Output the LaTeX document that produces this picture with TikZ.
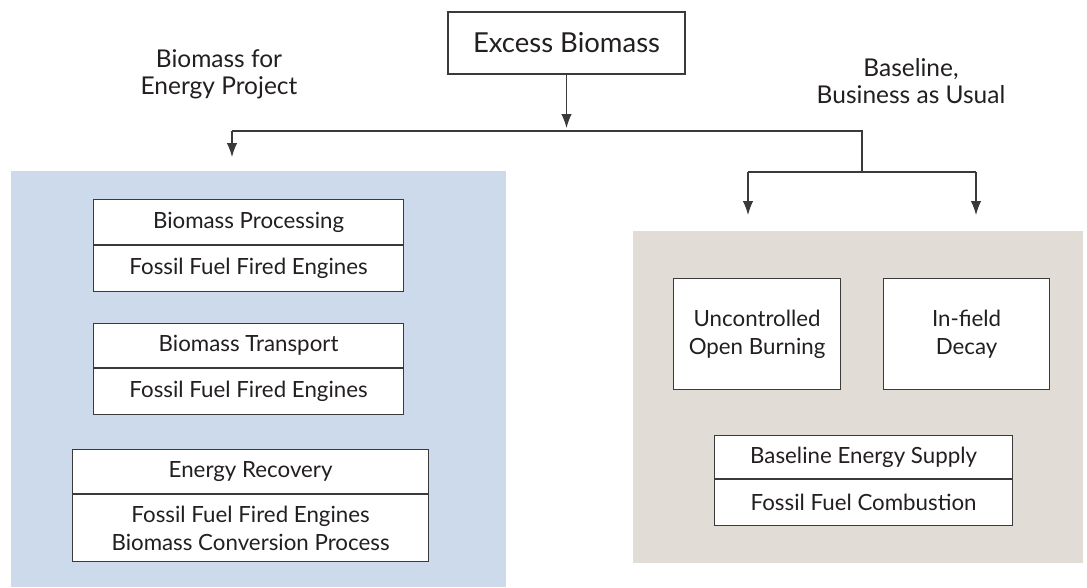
\documentclass[tikz,border=0pt]{standalone}
\usepackage{fontspec}
\setmainfont{Lato}
\usetikzlibrary{arrows.meta}
\definecolor{panelblue}{HTML}{CDDAEC}
\definecolor{panelsand}{HTML}{E1DDD6}
\definecolor{ink}{HTML}{231F20}
\definecolor{edge}{HTML}{3A3A3A}
\tikzset{
  box/.style={draw=edge, line width=1.2pt, fill=white, text=ink, inner sep=0pt,
    align=center, font=\fontsize{22.3}{27.5}\selectfont},
  label/.style={text=ink, align=center, inner sep=0pt, font=\fontsize{24.5}{27}\selectfont},
  link/.style={draw=edge, line width=1.2pt},
  flow/.style={link, -{Latex[length=14pt,width=10.5pt]}},
}
\begin{document}
\begin{tikzpicture}[x=1pt,y=-1pt]
\useasboundingbox (0,0) rectangle (1087,587);

% background panels
\fill[panelblue] (11,171) rectangle (506,587);
\fill[panelsand] (633,231) rectangle (1083,563);

% source
\node[box, minimum width=237pt, minimum height=62pt, font=\fontsize{27.5}{30}\selectfont]
  (excess) at (566.5,43) {Excess Biomass};

% side labels
\node[label] (projlbl) at (219,74) {Biomass for\\Energy Project};
\node[label] (baselbl) at (911,81) {Baseline,\\Business as Usual};

% project chain (left)
\node[box, minimum width=310pt, minimum height=45pt, anchor=north west]
  (proc) at (93,199) {Biomass Processing};
\node[box, minimum width=310pt, minimum height=46pt, anchor=north]
  (procf) at (proc.south) {Fossil Fuel Fired Engines};
\node[box, minimum width=310pt, minimum height=44pt, anchor=north west]
  (trans) at (93,323) {Biomass Transport};
\node[box, minimum width=310pt, minimum height=46pt, anchor=north]
  (transf) at (trans.south) {Fossil Fuel Fired Engines};
\node[box, minimum width=356pt, minimum height=44pt, anchor=north west]
  (recov) at (72,449) {Energy Recovery};
\node[box, minimum width=356pt, minimum height=67pt, anchor=north]
  (recovf) at (recov.south) {Fossil Fuel Fired Engines\\Biomass Conversion Process};

% baseline chain (right)
\node[box, minimum width=167pt, minimum height=111pt, anchor=north west]
  (burn) at (673,278) {Uncontrolled\\Open Burning};
\node[box, minimum width=166pt, minimum height=111pt, anchor=north west]
  (decay) at (883,278) {In-field\\Decay};
\node[box, minimum width=298pt, minimum height=43pt, anchor=north west]
  (supply) at (714,435) {Baseline Energy Supply};
\node[box, minimum width=298pt, minimum height=46pt, anchor=north]
  (supplyf) at (supply.south) {Fossil Fuel Combustion};

% connectors
\coordinate (split) at (566.5,131);
\coordinate (splitL) at (232,131);
\coordinate (splitR) at (862,131);
\coordinate (projend) at (232,157);
\coordinate (fork) at (862,172);
\coordinate (forkL) at (748,172);
\coordinate (forkR) at (976,172);
\coordinate (burnend) at (748,215);
\coordinate (decayend) at (976,215);

\draw[flow, shorten >=3pt] (excess.south) -- (split);
\draw[link] (splitL) -- (splitR) -- (fork);
\draw[flow] (splitL) -- (projend);
\draw[link] (forkL) -- (forkR);
\draw[flow] (forkL) -- (burnend);
\draw[flow] (forkR) -- (decayend);
\end{tikzpicture}
\end{document}
